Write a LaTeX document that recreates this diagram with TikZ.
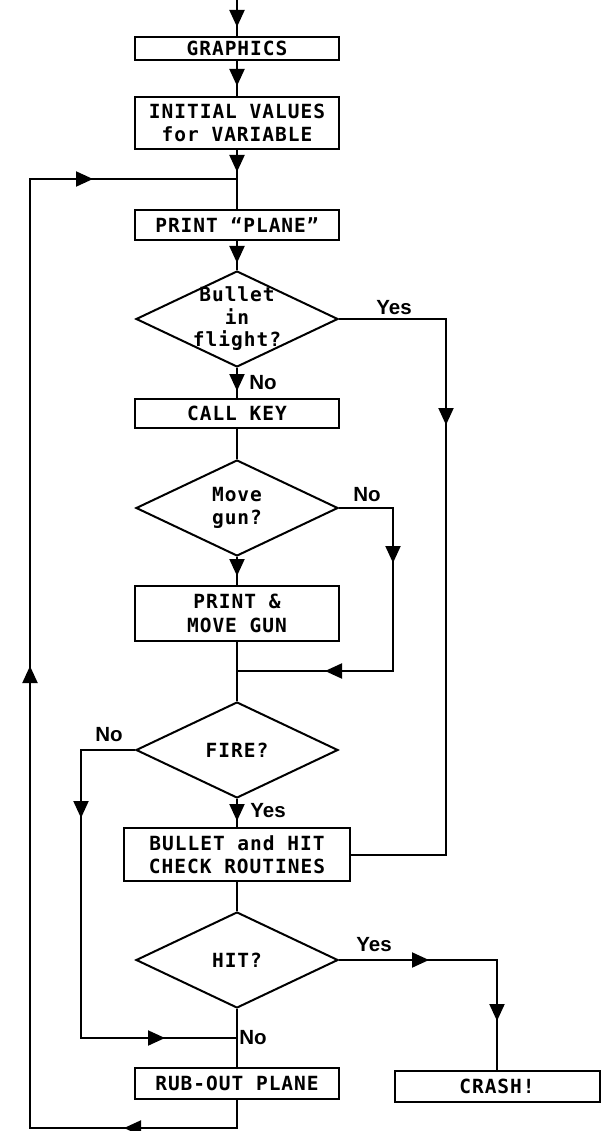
\documentclass[tikz,border=0pt]{standalone}
\usepackage{fontspec}
\newfontfamily\boxfont[LetterSpace=5]{DejaVu Sans Mono}
\newfontfamily\lblfont{Liberation Sans}
\usetikzlibrary{shapes.geometric,arrows.meta,decorations.markings}
\tikzset{
  Tri/.tip={Triangle[length=17pt,width=15pt]},
  proc/.style={draw, rectangle, minimum width=204pt, inner sep=0pt,
    font=\boxfont\bfseries\fontsize{19.5}{23.5}\selectfont, align=center},
  dec/.style={draw, diamond, minimum width=202pt, minimum height=96pt, inner sep=0pt,
    font=\boxfont\bfseries\fontsize{19.5}{23.5}\selectfont, align=center},
  dectext/.style={font=\boxfont\bfseries\fontsize{19.5}{22.5}\selectfont, align=center, inner sep=0pt},
  lbl/.style={font=\lblfont\bfseries\fontsize{20.5}{22}\selectfont, inner sep=0pt},
  arr/.style={postaction={decorate,decoration={markings,mark=at position #1 with {\arrow{Tri}}}}}
}
\begin{document}
\begin{tikzpicture}[x=1pt,y=-1pt,line width=2pt]
\useasboundingbox (0,0) rectangle (601,1131);
% nodes
\node[proc,minimum height=23pt] (graphics) at (237,48.5) {GRAPHICS};
\node[proc,minimum height=52pt] (init) at (237,123) {INITIAL VALUES\\for VARIABLE};
\node[proc,minimum height=30pt] (plane) at (237,225) {PRINT “PLANE”};
\node[dec,label={[dectext]center:{Bullet\\in\\flight?}}] (flight) at (237,319) {};
\node[proc,minimum height=29pt] (callkey) at (237,413.5) {CALL KEY};
\node[dec] (movegun) at (237,508) {Move\\gun?};
\node[proc,minimum height=55pt] (printmove) at (237,613.5) {PRINT \&\\MOVE GUN};
\node[dec] (fire) at (237,750) {FIRE?};
\node[proc,minimum width=226pt,minimum height=53pt] (bullet) at (237,854.5) {BULLET and HIT\\CHECK ROUTINES};
\node[dec] (hit) at (237,960) {HIT?};
\node[proc,minimum height=31pt] (rubout) at (237,1083.5) {RUB-OUT PLANE};
\node[proc,minimum width=205pt,minimum height=31pt] (crash) at (497,1086.5) {CRASH!};
% labels
\node[lbl] (yes1) at (394,308) {Yes};
\node[lbl] (no1) at (263,383) {No};
\node[lbl] (no2) at (367,495) {No};
\node[lbl] (no3) at (109,735) {No};
\node[lbl] (yes2) at (268,811) {Yes};
\node[lbl] (yes3) at (374,945) {Yes};
\node[lbl] (no4) at (253,1038) {No};
% coordinates
\coordinate (start) at (237,0);
\coordinate (j1) at (237,179);
\coordinate (j2) at (237,671);
\coordinate (j3) at (237,1038);
\coordinate (c1) at (446,319);
\coordinate (c2) at (393,508);
\coordinate (c3) at (81,750);
\coordinate (c6) at (30,1128);
% connectors
\draw[arr=-9pt] (start) -- (graphics);
\draw[arr=-10pt] (graphics) -- (init);
\draw[arr=-37pt] (init) -- (plane);
\draw[arr=-7pt] (plane) -- (flight);
\draw[arr=-7pt] (flight) -- (callkey);
\draw[arr=213pt] (flight.east) -- (c1) |- (bullet.east);
\draw (callkey) -- (movegun);
\draw[arr=-9pt] (movegun) -- (printmove);
\draw[arr=109pt,arr=-88pt] (movegun.east) -- (c2) |- (j2);
\draw (printmove) -- (fire);
\draw[arr=-6pt] (fire) -- (bullet);
\draw[arr=122pt,arr=-72pt] (fire.west) -- (c3) |- (j3);
\draw (bullet) -- (hit);
\draw (hit) -- (rubout);
\draw[arr=90pt,arr=-49pt] (hit.east) -| (crash.north);
\draw[arr=141pt,arr=697pt,arr=-144pt] (rubout.south) |- (c6) |- (j1);
\end{tikzpicture}
\end{document}
